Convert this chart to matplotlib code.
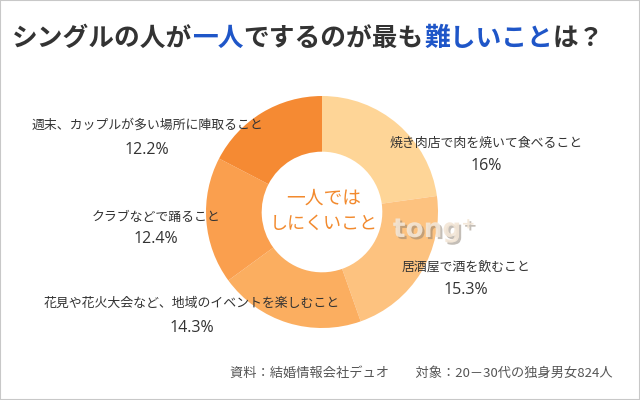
import matplotlib
matplotlib.use('Agg')
import matplotlib.pyplot as plt
import matplotlib.patheffects as pe
from matplotlib.patches import Rectangle

plt.rcParams['font.family'] = ['Noto Sans CJK JP', 'DejaVu Sans']

# data
labels = ['焼き肉店で肉を焼いて食べること', '居酒屋で酒を飲むこと',
          '花見や花火大会など、地域のイベントを楽しむこと',
          'クラブなどで踊ること', '週末、カップルが多い場所に陣取ること']
values = [16, 15.3, 14.3, 12.4, 12.2]
pct = ['16%', '15.3%', '14.3%', '12.4%', '12.2%']
colors = ['#FED597', '#FDC27F', '#FBAE60', '#FA9F4E', '#F58A33']

# label positions in pixels (x center, y of text, y of percent)
lab_pos = [(486, 143, 166), (466, 267, 290), (192, 303, 328),
           (156, 217, 239), (147, 125, 150)]

W, H = 640, 400
fig = plt.figure(figsize=(6.4, 4.0), dpi=100)

def px(x, y):
    return x / W, 1 - y / H

# frame
fig.patches.append(Rectangle((0, 0), 1, 1, transform=fig.transFigure,
                             fill=False, edgecolor='#C8C8C8', lw=1.5))

# donut
cx, cy, r = 322, 212, 116
ax = fig.add_axes([(cx - r) / W, 1 - (cy + r) / H, 2 * r / W, 2 * r / H])
ax.pie(values, colors=colors, startangle=90, counterclock=False,
       wedgeprops=dict(width=0.48, linewidth=0))
ax.set_xlim(-1, 1)
ax.set_ylim(-1, 1)
ax.set_aspect('equal')
ax.axis('off')

# watermark
fig.text(*px(434, 230), 'tong⁺', fontsize=19, fontweight='bold', color='#F3E6D6',
         family='DejaVu Sans', ha='center', va='center', alpha=0.9,
         path_effects=[pe.withSimplePatchShadow(offset=(1.5, -1.5), shadow_rgbFace='#8A7E70', alpha=0.5)])

# center text
fig.text(*px(324, 198), '一人では', fontsize=13.5, color='#F28A2E',
         ha='center', va='center')
fig.text(*px(324, 224), 'しにくいこと', fontsize=13, color='#F28A2E',
         ha='center', va='center')

# slice labels
for lab, p, (x, y1, y2) in zip(labels, pct, lab_pos):
    fig.text(*px(x, y1), lab, fontsize=9.3, color='#333333', ha='center', va='center')
    fig.text(*px(x, y2), p, fontsize=11.5, color='#333333', ha='center', va='center',
             family=['Open Sans', 'DejaVu Sans'])

# title with coloured parts
title_parts = [('シングルの人が', '#333333'), ('一人', '#1F56C8'),
               ('でするのが最も', '#333333'), ('難しいこと', '#1F56C8'),
               ('は？', '#333333')]
fig.canvas.draw()
renderer = fig.canvas.get_renderer()
x = 12
for s, c in title_parts:
    t = fig.text(*px(x, 38), s, fontsize=18.5, color=c, fontweight='bold',
                 ha='left', va='center')
    bb = t.get_window_extent(renderer)
    x += bb.width

# footer
fig.text(*px(613, 373), '資料：結婚情報会社デュオ　　対象：20－30代の独身男女824人',
         fontsize=9.5, color='#555555', ha='right', va='center')

fig.savefig('out.png', dpi=100)
